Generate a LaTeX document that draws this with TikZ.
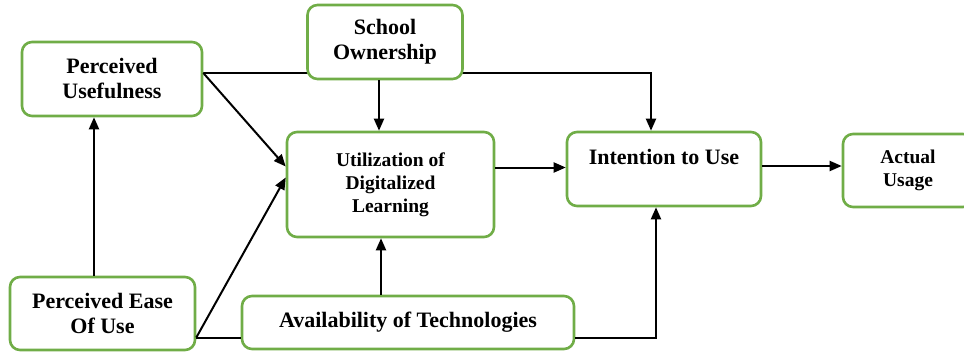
\documentclass[tikz,border=0pt]{standalone}
\usepackage{fontspec}
\setmainfont{Liberation Serif}
\usetikzlibrary{arrows.meta,calc,backgrounds}
\definecolor{boxgreen}{HTML}{70AD47}
\begin{document}
\begin{tikzpicture}[x=1pt,y=-1pt,
  box/.style={draw=boxgreen, line width=2.6pt, rounded corners=10pt, fill=white,
    align=center, inner sep=0pt, font=\fontsize{22}{25}\selectfont\bfseries},
  smallbox/.style={box, font=\fontsize{19.5}{23}\selectfont\bfseries},
  link/.style={line width=2pt, -{Triangle[length=12pt,width=10pt]}},
  plain/.style={line width=2pt}]
\useasboundingbox (0,0) rectangle (964,353);
\clip (0,0) rectangle (964,353);

% constructs
\node[box, minimum width=180pt, minimum height=74pt] (PU) at (112,79) {Perceived\\Usefulness};
\node[box, minimum width=155pt, minimum height=74pt] (SO) at (385,42) {School\\Ownership};
\node[smallbox, minimum width=207pt, minimum height=105pt] (UDL) at (390.5,184.5) {Utilization of\\Digitalized\\Learning};
\node[box, minimum width=194pt, minimum height=74pt] (IU) at (664,169) {Intention to Use\\\phantom{I}};
\node[smallbox, minimum width=130pt, minimum height=73pt] (AU) at (908,170.5) {Actual\\Usage};
\node[box, minimum width=185pt, minimum height=73pt] (PEU) at (102.5,313.5) {Perceived Ease\\Of Use};
\node[box, minimum width=332pt, minimum height=53pt] (AT) at (408,322.5) {Availability of Technologies};

% connector end points on the box borders
\coordinate (puOut)  at ($(PU.east)+(0,-6)$);
\coordinate (peuOut) at ($(PEU.east)+(0,24)$);
\coordinate (peuUp)  at ($(PEU.north)+(-8.5,0)$);
\coordinate (soDown) at ($(SO.south)+(-6,0)$);
\coordinate (atUp)   at ($(AT.north)+(-27,0)$);
\coordinate (udlOut) at ($(UDL.east)+(0,-17)$);
\coordinate (iuOut)  at ($(IU.east)+(0,-3)$);
\coordinate (atOut)  at ($(AT.east)+(0,15.5)$);

% path running behind the School Ownership box
\begin{scope}[on background layer]
  \draw[link] (puOut) -| ($(IU.north)+(-13,0)$);
\end{scope}

% direct relations
\draw[link] (puOut) -- ($(UDL.west)+(0,-18)$);
\draw[link] (peuOut) -- ($(UDL.west)+(0,-7)$);
\draw[link] (peuUp) -- (peuUp |- PU.south);
\draw[link] (soDown) -- (soDown |- UDL.north);
\draw[link] (atUp) -- (atUp |- UDL.south);
\draw[link] (udlOut) -- (udlOut -| IU.west);
\draw[link] (iuOut) -- (iuOut -| AU.west);
\draw[link] (atOut) -| ($(IU.south)+(-8,0)$);
\draw[plain] (peuOut) -- (peuOut -| AT.west);
\end{tikzpicture}
\end{document}
